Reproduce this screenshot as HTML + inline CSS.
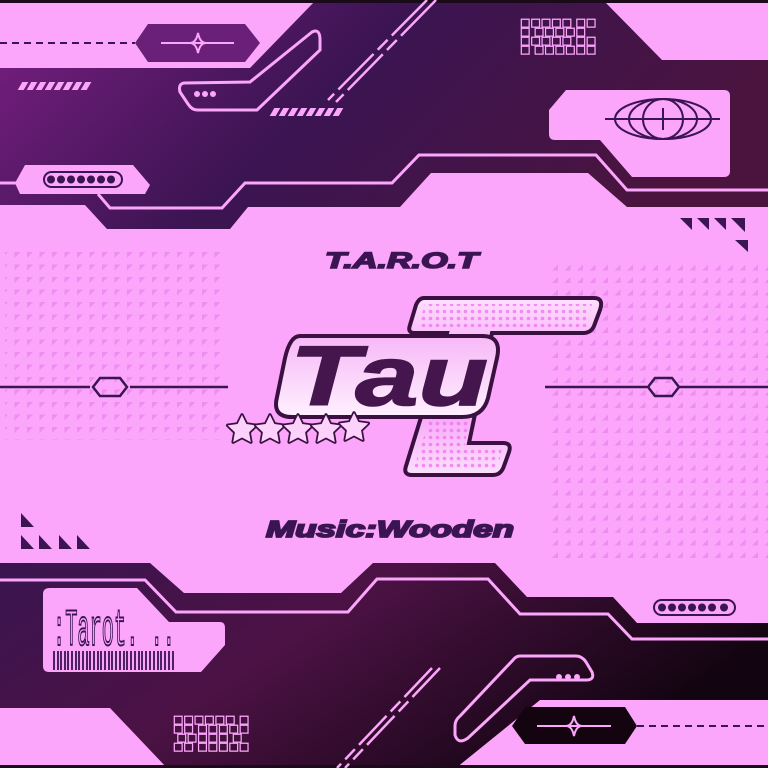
<!DOCTYPE html>
<html><head><meta charset="utf-8"><style>
html,body{margin:0;padding:0;background:#fba6fb}
svg{display:block}
</style></head><body>
<svg width="768" height="768" viewBox="0 0 768 768" xmlns="http://www.w3.org/2000/svg">
<defs>
<linearGradient id="gt" x1="0" y1="0" x2="1" y2="0.3">
<stop offset="0" stop-color="#7a1f82"/><stop offset="0.5" stop-color="#3b1452"/><stop offset="1" stop-color="#4a143f"/></linearGradient>
<linearGradient id="gb" x1="0" y1="0" x2="1" y2="0.4">
<stop offset="0" stop-color="#3a1450"/><stop offset="0.45" stop-color="#4c1245"/><stop offset="1" stop-color="#120410"/></linearGradient>
<pattern id="tri" width="12.5" height="12.5" patternUnits="userSpaceOnUse">
<path d="M2 2 L8 2 L2 8 Z" fill="#ee8cf0"/></pattern>
<pattern id="tri2" width="12.5" height="12.5" patternUnits="userSpaceOnUse">
<path d="M8 2 L8 8 L2 8 Z" fill="#ee8cf0"/></pattern>
<pattern id="dots" width="7" height="7" patternUnits="userSpaceOnUse">
<circle cx="3.5" cy="3.5" r="1.8" fill="#f070f0"/></pattern>
<linearGradient id="tg" x1="0" y1="0" x2="0" y2="1">
<stop offset="0" stop-color="#fde0fd"/><stop offset="0.5" stop-color="#f58cf5"/><stop offset="1" stop-color="#fde0fd"/></linearGradient>
<linearGradient id="wg" x1="0" y1="0" x2="0" y2="1">
<stop offset="0" stop-color="#f7b8f7"/><stop offset="1" stop-color="#fff0ff"/></linearGradient>
<path id="star" d="M0 -15 L4.4 -6 L14.3 -4.6 L7.1 2.3 L8.8 12.1 L0 7.5 L-8.8 12.1 L-7.1 2.3 L-14.3 -4.6 L-4.4 -6 Z"/>
</defs>
<rect width="768" height="768" fill="#fba6fb"/>
<rect x="5" y="225" width="215" height="215" fill="url(#tri)"/>
<rect x="548" y="260" width="220" height="300" fill="url(#tri2)"/>
<rect x="0" y="225" width="768" height="22" fill="#fba6fb"/>
<polygon points="0,68 250,68 316,0 603,0 662,60 768,60 768,207 627,207 588,173 431,173 400,207 248,207 230,229 107,229 85,205 0,205" fill="url(#gt)"/>
<rect x="0" y="0" width="768" height="3" fill="#1a0a1a"/>
<polyline points="0,183 16,183" fill="none" stroke="#fba6fb" stroke-width="3"/>
<polyline points="98,194 110,208 222,208 245,183 392,183 419,155 596,155 627,190 768,190" fill="none" stroke="#fba6fb" stroke-width="3"/>
<line x1="0" y1="43" x2="135" y2="43" stroke="#3b1452" stroke-width="2" stroke-dasharray="7,5"/>
<polygon points="148,24 245,24 260,43 245,62 148,62 135,43" fill="#6a1f78"/>
<line x1="161" y1="43" x2="234" y2="43" stroke="#fba6fb" stroke-width="2"/>
<path d="M198 33 Q200 43 206 43 Q200 43 198 53 Q196 43 190 43 Q196 43 198 33Z" fill="none" stroke="#fba6fb" stroke-width="2"/>
<path d="M184 83 L250 82 L312 32 Q320 28 320 40 L320 50 L257 110 L197 110 Q192 110 188 104 L180 92 Q178 84 184 83Z" fill="none" stroke="#fba6fb" stroke-width="3"/>
<circle cx="197" cy="94" r="3" fill="#fba6fb"/><circle cx="205" cy="94" r="3" fill="#fba6fb"/><circle cx="213" cy="94" r="3" fill="#fba6fb"/>
<g stroke="#fba6fb" stroke-width="8" stroke-dasharray="6,3">
<line x1="0" y1="0" x2="72" y2="0" transform="translate(20,86) skewX(-30)"/>
<line x1="0" y1="0" x2="72" y2="0" transform="translate(272,112) skewX(-30)"/>
<line x1="0" y1="0" x2="72" y2="0" transform="translate(683,685) skewX(-30)"/>
<line x1="0" y1="0" x2="72" y2="0" transform="translate(431,660) skewX(-30)"/>
</g>
<line x1="436" y1="0" x2="336" y2="102" stroke="#fba6fb" stroke-width="2.5" stroke-dasharray="50,6,14,6"/>
<line x1="427" y1="0" x2="328" y2="100" stroke="#fba6fb" stroke-width="2.5" stroke-dasharray="50,6,14,6"/>
<text font-family="DejaVu Sans" font-size="11" fill="#fba6fb" stroke="#fba6fb" stroke-width="0.6" xml:space="preserve"><tspan x="520" y="26">□□□□□ □□</tspan><tspan x="520" y="35">□ □□□□□</tspan><tspan x="520" y="44">□□□□□ □□</tspan><tspan x="520" y="53">□ □□□□□□</tspan></text>
<path d="M566 90 L724 90 Q730 90 730 96 L730 171 Q730 177 724 177 L632 177 L600 140 L555 140 Q549 140 549 134 L549 110Z" fill="#fba6fb"/>
<g fill="none" stroke="#3b1452" stroke-width="2">
<ellipse cx="663" cy="119" rx="48" ry="20"/><ellipse cx="663" cy="119" rx="34" ry="20"/><ellipse cx="663" cy="119" rx="20" ry="20"/>
<line x1="605" y1="119" x2="720" y2="119"/><line x1="663" y1="108" x2="663" y2="130"/></g>
<polygon points="25,165 133,165 150,185 145,194 20,194 15,183" fill="#fba6fb"/>
<rect x="44" y="172" width="78" height="15" rx="7.5" fill="none" stroke="#3b1452" stroke-width="2"/>
<g fill="#3b1452"><circle cx="51" cy="179.5" r="4"/><circle cx="61" cy="179.5" r="4"/><circle cx="71" cy="179.5" r="4"/><circle cx="81" cy="179.5" r="4"/><circle cx="91" cy="179.5" r="4"/><circle cx="101" cy="179.5" r="4"/><circle cx="111" cy="179.5" r="4"/></g>
<g fill="#3b1452"><path d="M680 218 L692 218 L692 230Z"/><path d="M697 218 L709 218 L709 230Z"/><path d="M714 218 L726 218 L726 230Z"/><path d="M731 218 L745 218 L745 232Z"/><path d="M735 240 L748 240 L748 252Z"/>
<path d="M21 513 L21 527 L34 527Z"/><path d="M21 535 L21 549 L34 549Z"/><path d="M39 535 L39 549 L52 549Z"/><path d="M59 535 L59 549 L72 549Z"/><path d="M77 535 L77 549 L90 549Z"/></g>
<g stroke="#3b1452" stroke-width="2.5" fill="none">
<line x1="0" y1="387" x2="90" y2="387"/><line x1="130" y1="387" x2="228" y2="387"/>
<polygon points="100,378 120,378 127,387 120,396 100,396 93,387"/>
<line x1="545" y1="387" x2="647" y2="387"/><line x1="678" y1="387" x2="768" y2="387"/>
<polygon points="655,378 672,378 679,387 672,396 655,396 648,387"/></g>
<text x="325" y="268" textLength="153" lengthAdjust="spacingAndGlyphs" font-family="Liberation Sans" font-weight="bold" font-style="italic" font-size="22" fill="#3b1452" stroke="#3b1452" stroke-width="1.6">T.A.R.O.T</text>
<text x="266" y="537" textLength="248" lengthAdjust="spacingAndGlyphs" font-family="Liberation Sans" font-weight="bold" font-style="italic" font-size="23" fill="#3b1452" stroke="#3b1452" stroke-width="1.8">Music:Wooden</text>
<path d="M424 298 L594 298 Q604 298 600 310 L594 326 Q591 333 583 333 L492 333 L469 443 L503 443 Q512 443 509 452 L504 466 Q501 475 493 475 L412 475 Q403 475 406 466 L447 333 L415 333 Q407 333 410 325 L416 305 Q419 298 424 298Z" fill="url(#tg)" stroke="#3a1040" stroke-width="4"/>
<path d="M425 304 L592 304 L586 327 L418 327Z M455 338 L486 338 L464 448 L502 448 L498 468 L414 468Z" fill="url(#dots)" opacity="0.75"/>
<path d="M300 336 L482 336 Q502 336 497 358 L488 398 Q483 417 462 417 L292 417 Q272 417 277 397 L285 358 Q290 336 300 336Z" fill="url(#wg)" stroke="#3a1040" stroke-width="4"/>
<text x="290" y="405" textLength="198" lengthAdjust="spacingAndGlyphs" font-family="Liberation Sans" font-weight="bold" font-style="italic" font-size="84" fill="#45164d" stroke="#45164d" stroke-width="1.5">Tau</text>
<g fill="#fcd2fc" stroke="#3a1040" stroke-width="3.5" stroke-linejoin="round" style="paint-order:stroke">
<use href="#star" transform="translate(242,430)"/><use href="#star" transform="translate(270,430)"/><use href="#star" transform="translate(298,430)"/><use href="#star" transform="translate(326,430)"/><use href="#star" transform="translate(354,428)"/></g>
<polygon points="0,563 150,563 184,593 341,593 373,563 495,563 527,597 613,597 637,623 768,623 768,700 540,700 456,768 167,768 110,708 0,708" fill="url(#gb)"/>
<rect x="0" y="765" width="768" height="3" fill="#1a0a1a"/>
<polyline points="0,580 145,580 176,612 348,612 377,579 488,579 520,614 608,614 632,639 768,639" fill="none" stroke="#fba6fb" stroke-width="3"/>
<path d="M50 588 L137 588 L169 622 L220 622 Q225 622 225 628 L225 645 L201 672 L49 672 Q43 672 43 666 L43 594 Q43 588 50 588Z" fill="#fba6fb"/>
<text x="53" y="645" textLength="122" lengthAdjust="spacingAndGlyphs" font-family="Liberation Mono" font-size="52" fill="none" stroke="#3b1452" stroke-width="2">:Tarot. ..</text>
<g stroke="#3b1452" stroke-width="1.8">
<path d="M54 651v19M58 651v19M61 651v19M65 651v19M68 651v19M72 651v19M76 651v19M79 651v19M83 651v19M87 651v19M90 651v19M94 651v19M98 651v19M101 651v19M105 651v19M109 651v19M112 651v19M116 651v19M120 651v19M124 651v19M127 651v19M131 651v19M135 651v19M139 651v19M142 651v19M146 651v19M150 651v19M154 651v19M158 651v19M161 651v19M165 651v19M169 651v19M173 651v19"/></g>
<text font-family="DejaVu Sans" font-size="11" fill="#fba6fb" stroke="#fba6fb" stroke-width="0.6" xml:space="preserve"><tspan x="173" y="723">□□□□□□ □</tspan><tspan x="173" y="732">□□ □□□□□</tspan><tspan x="173" y="741"> □□□□□ □</tspan><tspan x="173" y="750">□□ □□□□□</tspan></text>
<rect x="654" y="600" width="81" height="15" rx="7.5" fill="#fba6fb" stroke="#3b1452" stroke-width="2"/>
<g fill="#3b1452"><circle cx="662" cy="607.5" r="4"/><circle cx="672" cy="607.5" r="4"/><circle cx="682" cy="607.5" r="4"/><circle cx="692" cy="607.5" r="4"/><circle cx="702" cy="607.5" r="4"/><circle cx="712" cy="607.5" r="4"/><circle cx="724" cy="607.5" r="4"/></g>
<path d="M520 656 L576 656 Q582 656 586 662 L592 672 Q595 680 586 680 L530 680 L468 738 Q458 745 455 735 L455 726 Q455 720 460 716 L513 660 Q516 656 520 656Z" fill="none" stroke="#fba6fb" stroke-width="3"/>
<circle cx="559" cy="677" r="3" fill="#fba6fb"/><circle cx="568" cy="677" r="3" fill="#fba6fb"/><circle cx="577" cy="677" r="3" fill="#fba6fb"/>
<line x1="440" y1="668" x2="345" y2="768" stroke="#fba6fb" stroke-width="2.5" stroke-dasharray="40,6,14,6"/>
<line x1="432" y1="668" x2="337" y2="768" stroke="#fba6fb" stroke-width="2.5" stroke-dasharray="40,6,14,6"/>
<polygon points="525,707 625,707 637,726 625,744 525,744 512,726" fill="#14040f"/>
<line x1="637" y1="726" x2="768" y2="726" stroke="#3b1452" stroke-width="2" stroke-dasharray="7,5"/>
<line x1="537" y1="726" x2="611" y2="726" stroke="#fba6fb" stroke-width="2"/>
<path d="M574 716 Q576 726 582 726 Q576 726 574 736 Q572 726 566 726 Q572 726 574 716Z" fill="none" stroke="#fba6fb" stroke-width="2"/>
</svg>
</body></html>
